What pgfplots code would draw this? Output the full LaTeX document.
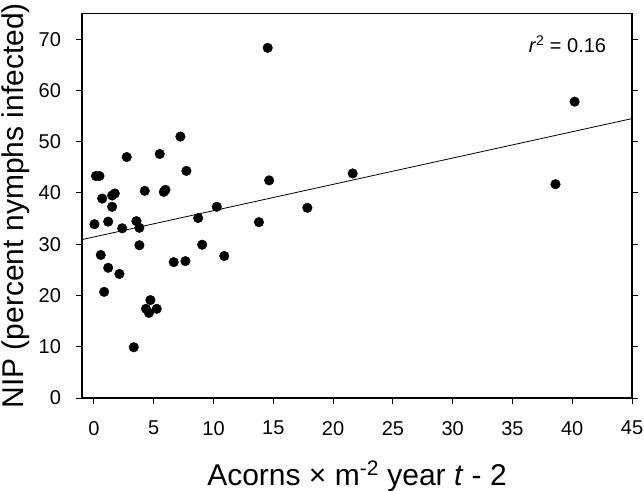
\documentclass[border=0pt]{standalone}
\usepackage{fontspec}
\setmainfont{Liberation Sans}
\usepackage{pgfplots}
\pgfplotsset{compat=1.18}
\begin{document}
\begin{tikzpicture}
\begin{axis}[
    name=ax,
    scale only axis,
    width=550pt, height=384.5pt,
    xmin=-1, xmax=45, ymin=0, ymax=75,
    xtick={0,5,...,45}, ytick={0,10,...,70},
    xtick pos=bottom, ytick pos=both,
    tick align=outside,
    major tick length=5.5pt,
    axis line style={line width=1.2pt},
    every tick/.style={black, line width=1pt},
    /pgf/number format/assume math mode=true,
    tick label style={font=\fontsize{20}{20}\selectfont},
    yticklabel style={xshift=-12pt},
    xticklabel style={yshift=-14pt},
    xlabel={Acorns × m\textsuperscript{-2} year \textit{t} - 2},
    ylabel={NIP (percent nymphs infected)},
    label style={font=\fontsize{30}{30}\selectfont},
    xlabel style={at={(axis description cs:0.5,0)}, anchor=base, yshift=-87pt},
    ylabel style={at={(axis description cs:-0.106,0.5)}, anchor=base},
    clip=false,
]
\addplot[only marks, mark=*, mark size=4.8pt, black] coordinates {
(0.17,43.3) (0.46,43.3) (4.25,40.4) (0.69,38.9) (1.52,39.5) (1.74,39.9)
(1.52,37.3) (0.04,33.9) (1.19,34.4) (2.36,33.1) (3.55,34.5) (3.8,33.2)
(3.8,29.8) (0.57,27.9) (2.74,47.0) (7.23,51.0) (5.5,47.6) (7.73,44.3)
(5.84,40.2) (5.98,40.6) (8.71,35.1) (1.19,25.4) (2.13,24.2) (0.85,20.7)
(4.72,19.1) (4.35,17.4) (5.25,17.4) (4.6,16.6) (3.33,9.9) (9.05,29.9)
(6.67,26.5) (7.65,26.7) (14.53,68.3) (14.65,42.45) (21.64,43.8) (10.27,37.3)
(17.85,37.1) (13.8,34.3) (10.9,27.7) (40.2,57.8) (38.6,41.7)
};
\addplot[black, line width=0.8pt] coordinates {(-1,30.9) (45,54.5)};
\node[font=\fontsize{20}{20}\selectfont] at (axis cs:39.6,69) {\textit{r}\textsuperscript{2} = 0.16};
\end{axis}
\pgfresetboundingbox
\path ([xshift=-82pt,yshift=-92pt]ax.south west) rectangle ([xshift=12pt,yshift=13.5pt]ax.north east);
\end{tikzpicture}
\end{document}
